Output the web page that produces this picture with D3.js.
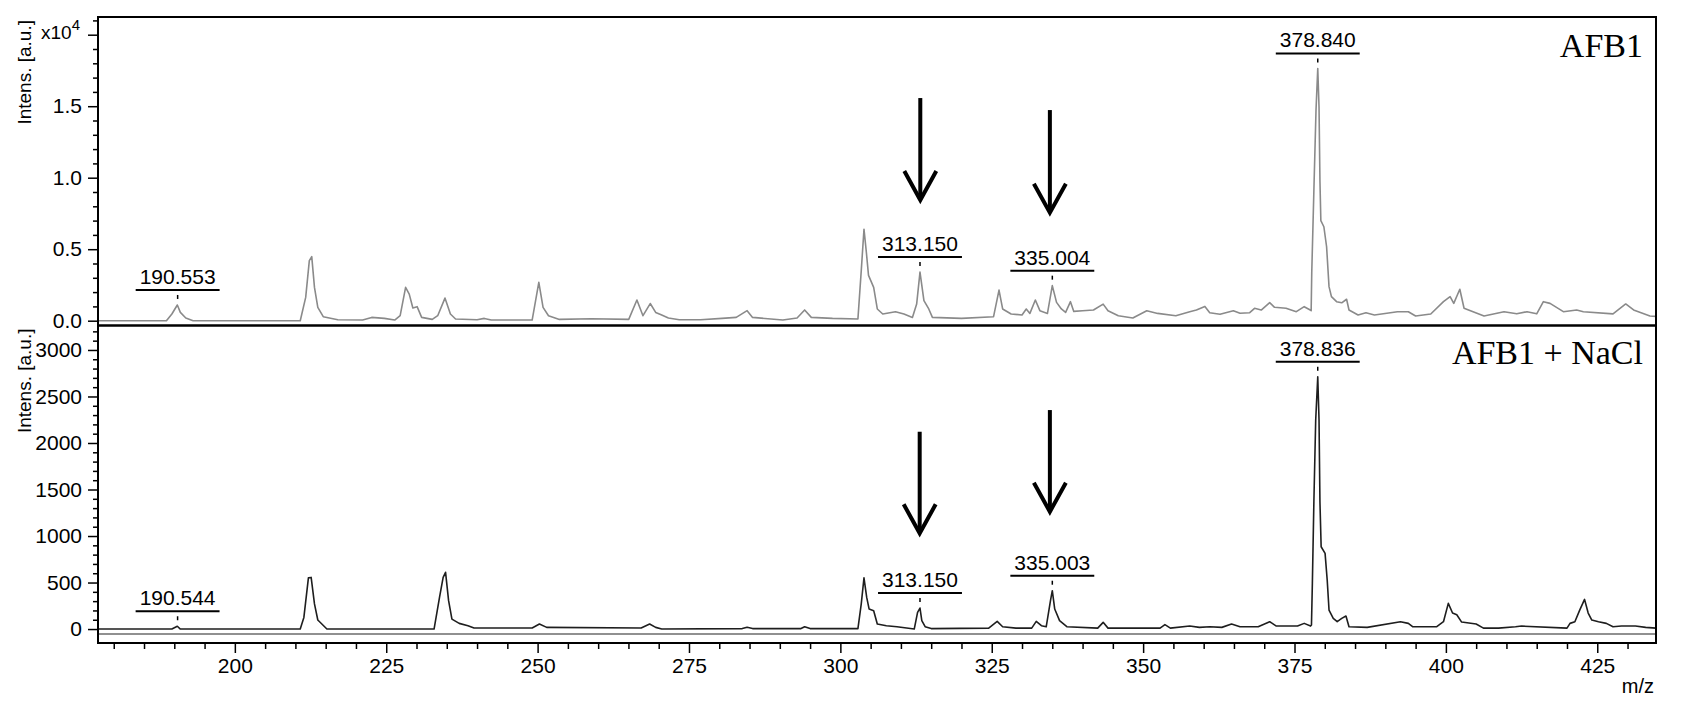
<!DOCTYPE html>
<html>
<head>
<meta charset="utf-8">
<script src="https://cdn.jsdelivr.net/npm/d3@7"></script>
<style>
  body { margin: 0; background: #fff; }
  svg { display: block; }
</style>
</head>
<body>
<script>
const width = 1682;
const height = 703;

// spectra: [m/z, intensity]
const afb1Spectrum = [
  [177.4, 0], [188.7, 0], [189.6, 470], [190.5, 1100], [191.0, 580], [191.9, 190], [193.1, 0],
  [210.8, 0], [211.7, 1630], [212.3, 4200], [212.7, 4480], [213.15, 2330], [213.7, 930], [214.6, 280],
  [217.0, 70], [221.1, 45], [222.6, 230], [224.7, 160], [226.4, 45], [227.3, 350], [228.2, 2330],
  [228.8, 1860], [229.4, 890], [230.1, 980], [230.85, 230], [232.6, 90], [233.5, 350], [234.7, 1580],
  [235.6, 470], [236.45, 120], [240.0, 70], [241.2, 160], [242.35, 45], [249.1, 45], [250.2, 2680],
  [250.9, 930], [251.8, 350], [253.6, 90], [258.9, 140], [265.05, 90], [266.4, 1450], [267.4, 350],
  [268.6, 1200], [269.5, 580], [270.4, 420], [271.6, 190], [273.4, 70], [276.9, 70], [280.45, 160],
  [282.8, 230], [284.6, 700], [285.5, 230], [290.5, 45], [292.85, 190], [294.1, 750], [295.2, 230],
  [298.7, 160], [302.9, 120], [303.45, 3500], [303.9, 6400], [304.3, 4750], [304.65, 3170],
  [305.5, 2330], [306.1, 820], [307.0, 470], [309.1, 630], [310.5, 470], [311.9, 230], [312.6, 1160],
  [313.15, 3400], [313.8, 1400], [314.6, 820], [315.2, 230], [320.0, 160], [325.3, 280], [326.2, 2140],
  [326.8, 820], [328.2, 470], [330.0, 400], [330.7, 820], [331.3, 510], [332.2, 1450], [332.95, 700],
  [334.2, 510], [335.0, 2450], [335.7, 1280], [336.5, 820], [337.2, 580], [338.0, 1330], [338.55, 650],
  [340.0, 700], [341.8, 750], [343.4, 1160], [344.2, 700], [345.9, 350], [348.3, 190], [350.6, 700],
  [352.4, 510], [355.4, 350], [357.7, 630], [358.8, 745], [360.2, 1000], [361.0, 560], [362.7, 445],
  [364.9, 700], [366.0, 520], [367.6, 560], [368.4, 865], [369.5, 745], [370.9, 1260], [371.7, 935],
  [373.6, 865], [375.3, 630], [376.6, 980], [377.6, 745], [377.75, 700], [377.85, 3400], [378.2, 9100],
  [378.55, 14700], [378.84, 17640], [379.05, 14950], [379.2, 9800], [379.35, 7000], [379.85, 6570],
  [380.3, 5170], [380.7, 2380], [381.1, 1680], [381.95, 1330], [382.8, 1250], [383.6, 1500],
  [384.0, 750], [385.5, 400], [386.8, 550], [388.2, 400], [392.0, 630], [393.8, 630], [395.0, 330],
  [397.5, 470], [399.6, 1330], [400.7, 1680], [401.3, 1210], [402.3, 2200], [403.0, 870], [406.3, 330],
  [409.6, 630], [411.7, 480], [413.4, 630], [415.0, 480], [416.1, 1330], [417.2, 1210], [419.4, 630],
  [421.6, 750], [422.7, 630], [427.6, 480], [429.7, 1170], [431.0, 750], [433.7, 330], [434.7, 300]
];

const naclSpectrum = [
  [177.4, 0], [189.6, 0], [190.5, 30], [191.0, 0], [210.8, 0], [211.4, 125], [212.15, 550],
  [212.6, 555], [213.15, 270], [213.7, 97], [215.2, 0], [232.9, 0], [233.8, 340], [234.4, 555],
  [234.8, 610], [235.3, 305], [235.85, 107], [237.05, 61], [238.5, 36], [239.5, 11], [249.1, 11],
  [250.3, 54], [251.5, 18], [267.1, 11], [268.5, 54], [269.5, 18], [270.5, 0], [283.8, 5], [284.6, 20],
  [285.5, 5], [293.5, 5], [294.1, 25], [295.0, 5], [302.9, 5], [303.45, 270], [303.9, 550],
  [304.35, 340], [304.75, 215], [305.5, 197], [306.1, 54], [307.6, 36], [309.35, 25], [312.2, 0],
  [312.75, 179], [313.15, 226], [313.45, 90], [314.0, 25], [315.0, 5], [324.5, 10], [325.9, 82],
  [326.8, 25], [329.0, 10], [331.6, 10], [332.35, 82], [333.2, 36], [334.0, 25], [334.7, 305],
  [335.0, 412], [335.4, 215], [336.2, 90], [337.4, 25], [342.5, 10], [343.4, 72], [344.2, 10],
  [352.8, 10], [353.6, 47], [354.5, 10], [357.7, 32], [359.3, 18], [361.0, 25], [363.0, 18],
  [364.6, 54], [366.0, 25], [369.0, 25], [370.9, 79], [372.0, 32], [375.5, 32], [376.6, 61],
  [377.65, 32], [377.8, 43], [377.95, 491], [378.2, 1369], [378.5, 2247], [378.84, 2712],
  [379.05, 2247], [379.2, 1369], [379.4, 885], [380.05, 814], [380.4, 527], [380.7, 204],
  [381.4, 115], [382.05, 79], [382.8, 115], [383.5, 140], [384.0, 25], [387.0, 18], [392.5, 79],
  [393.8, 61], [394.5, 25], [398.5, 25], [399.6, 79], [400.4, 276], [401.1, 172], [401.8, 154],
  [402.6, 75], [405.0, 54], [406.2, 10], [408.7, 10], [411.5, 25], [412.5, 32], [420.0, 10],
  [420.5, 61], [421.3, 79], [422.1, 204], [422.9, 319], [423.5, 172], [424.1, 97], [425.2, 79],
  [426.5, 61], [427.6, 25], [429.0, 32], [431.3, 32], [433.0, 18], [434.7, 10]
];

const afb1Peaks = [190.553, 313.15, 335.004, 378.84];
const naclPeaks = [190.544, 313.15, 335.003, 378.836];

// arrows: m/z, tail intensity, tip intensity
const afb1Arrows = [[313.2, 15570, 8437], [334.6, 14730, 7550]];
const naclArrows = [[313.1, 2121, 1029], [334.6, 2354, 1261]];

const xMajor = [200, 225, 250, 275, 300, 325, 350, 375, 400, 425];
const afb1YMajor = [0, 5000, 10000, 15000, 20000];
const naclYMajor = [0, 500, 1000, 1500, 2000, 2500, 3000];

const plotLeft = 98, plotRight = 1656, plotTop = 17, plotMid = 325.5, plotBottom = 643;

const svg = d3.select("body").append("svg")
  .attr("width", width)
  .attr("height", height)
  .attr("viewBox", [0, 0, width, height]);

const x = d3.scaleLinear().domain([177.4, 434.7]).range([plotLeft, plotRight]);
const yTop = d3.scaleLinear().domain([-336, 21238]).range([plotMid, plotTop]);
const yBot = d3.scaleLinear().domain([-150, 3263]).range([plotBottom, plotMid]);

const font = "'Liberation Sans', Arial, sans-serif";

const defs = svg.append("defs");
defs.append("clipPath").attr("id", "clipTop")
  .append("rect").attr("x", plotLeft).attr("y", plotTop)
  .attr("width", plotRight - plotLeft).attr("height", plotMid - plotTop);
defs.append("clipPath").attr("id", "clipBot")
  .append("rect").attr("x", plotLeft).attr("y", plotMid)
  .attr("width", plotRight - plotLeft).attr("height", plotBottom - plotMid);

function styleAxis(g) {
  g.select(".domain").remove();
  g.selectAll("line").attr("stroke", "#000").attr("stroke-width", 1.5);
  g.selectAll("text").attr("font-family", font).attr("font-size", 21).attr("fill", "#000");
}

function drawPanel(data, y, clip, color, peaks, arrows, majors, minorStep, fmt, title, titleY) {
  // minor ticks
  const [d0, d1] = y.domain();
  const minors = d3.range(Math.ceil(d0 / minorStep) * minorStep, d1, minorStep)
    .filter(v => v >= 0 && !majors.includes(v));
  svg.append("g")
    .attr("transform", `translate(${plotLeft},0)`)
    .call(d3.axisLeft(y).tickValues(minors).tickSize(5).tickFormat(""))
    .call(styleAxis);
  svg.append("g")
    .attr("transform", `translate(${plotLeft},0)`)
    .call(d3.axisLeft(y).tickValues(majors).tickSize(10).tickPadding(6).tickFormat(fmt))
    .call(styleAxis);

  const line = d3.line().x(d => x(d[0])).y(d => y(d[1]));
  svg.append("path")
    .datum(data)
    .attr("clip-path", `url(#${clip})`)
    .attr("fill", "none")
    .attr("stroke", color)
    .attr("stroke-width", 1.6)
    .attr("stroke-linejoin", "round")
    .attr("d", line);

  // peak labels
  peaks.forEach(p => {
    const near = data.filter(d => Math.abs(d[0] - p) < 0.5);
    const peakY = y(d3.max(near, d => d[1]));
    const ux = x(p);
    const uy = peakY - 15;
    const t = svg.append("text")
      .attr("x", ux)
      .attr("y", uy - 6)
      .attr("text-anchor", "middle")
      .attr("font-family", font)
      .attr("font-size", 21)
      .attr("fill", "#000")
      .text(p.toFixed(3));
    const w = t.node().getComputedTextLength() + 8;
    svg.append("line")
      .attr("x1", ux - w / 2).attr("x2", ux + w / 2)
      .attr("y1", uy).attr("y2", uy)
      .attr("stroke", "#000").attr("stroke-width", 2);
    svg.append("line")
      .attr("x1", ux).attr("x2", ux)
      .attr("y1", uy + 5).attr("y2", peakY - 4)
      .attr("stroke", "#000").attr("stroke-width", 1.5)
      .attr("stroke-dasharray", "4,4");
  });

  // arrows
  arrows.forEach(a => {
    const ax = x(a[0]), y0 = y(a[1]), y1 = y(a[2]);
    svg.append("line")
      .attr("x1", ax).attr("x2", ax).attr("y1", y0).attr("y2", y1 - 2)
      .attr("stroke", "#000").attr("stroke-width", 4);
    svg.append("path")
      .attr("d", `M${ax - 16},${y1 - 29}L${ax},${y1}L${ax + 16},${y1 - 29}`)
      .attr("fill", "none").attr("stroke", "#000").attr("stroke-width", 4)
      .attr("stroke-linejoin", "miter");
  });

  svg.append("text")
    .attr("x", plotRight - 13)
    .attr("y", titleY)
    .attr("text-anchor", "end")
    .attr("font-family", "'Liberation Serif', 'Times New Roman', serif")
    .attr("font-size", 34)
    .attr("fill", "#000")
    .text(title);

  svg.append("text")
    .attr("transform", `translate(31,${y.range()[1] + 3}) rotate(-90)`)
    .attr("text-anchor", "end")
    .attr("font-family", font)
    .attr("font-size", 19)
    .attr("fill", "#000")
    .text("Intens. [a.u.]");
}

drawPanel(afb1Spectrum, yTop, "clipTop", "#8a8a8a", afb1Peaks, afb1Arrows,
  afb1YMajor, 1000, d => d === 20000 ? "" : (d / 10000).toFixed(1), "AFB1", 57);
drawPanel(naclSpectrum, yBot, "clipBot", "#1e1e1e", naclPeaks, naclArrows,
  naclYMajor, 100, d => d, "AFB1 + NaCl", 364);

// exponent label
const expo = svg.append("text")
  .attr("x", 41)
  .attr("y", 39)
  .attr("font-family", font)
  .attr("font-size", 19)
  .attr("fill", "#000");
expo.append("tspan").text("x10");
expo.append("tspan").attr("font-size", 15).attr("dy", -9).text("4");

// baseline rule in lower panel
svg.append("line")
  .attr("x1", plotLeft).attr("x2", plotRight)
  .attr("y1", plotBottom - 9).attr("y2", plotBottom - 9)
  .attr("stroke", "#222").attr("stroke-width", 1.2);

// x axis
const xMinor = d3.range(180, 435, 5).filter(v => !xMajor.includes(v));
svg.append("g")
  .attr("transform", `translate(0,${plotBottom})`)
  .call(d3.axisBottom(x).tickValues(xMinor).tickSize(6).tickFormat(""))
  .call(styleAxis);
svg.append("g")
  .attr("transform", `translate(0,${plotBottom})`)
  .call(d3.axisBottom(x).tickValues(xMajor).tickSize(10).tickPadding(5))
  .call(styleAxis);

svg.append("text")
  .attr("x", 1654)
  .attr("y", 693)
  .attr("text-anchor", "end")
  .attr("font-family", font)
  .attr("font-size", 20)
  .attr("fill", "#000")
  .text("m/z");

// frames
svg.append("rect")
  .attr("x", plotLeft).attr("y", plotTop)
  .attr("width", plotRight - plotLeft).attr("height", plotBottom - plotTop)
  .attr("fill", "none").attr("stroke", "#000").attr("stroke-width", 2);
svg.append("line")
  .attr("x1", plotLeft).attr("x2", plotRight).attr("y1", plotMid).attr("y2", plotMid)
  .attr("stroke", "#000").attr("stroke-width", 2.5);
</script>
</body>
</html>
